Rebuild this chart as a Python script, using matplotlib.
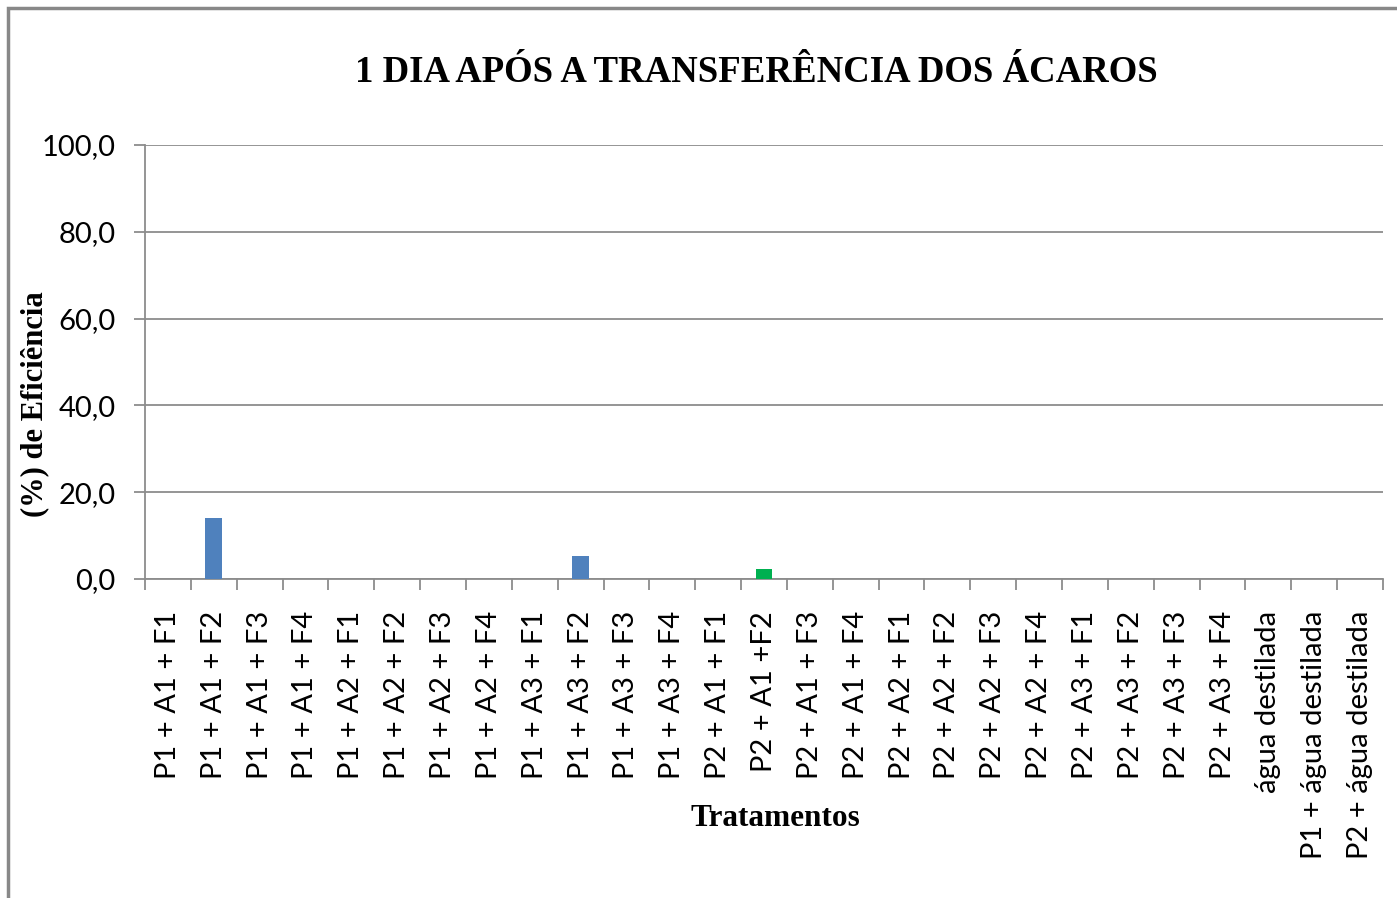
import matplotlib
matplotlib.use("Agg")
import matplotlib.pyplot as plt
from matplotlib.patches import Rectangle
import numpy as np

# Dados
tratamentos = [
    "P1 + A1 + F1", "P1 + A1 + F2", "P1 + A1 + F3", "P1 + A1 + F4",
    "P1 + A2 + F1", "P1 + A2 + F2", "P1 + A2 + F3", "P1 + A2 + F4",
    "P1 + A3 + F1", "P1 + A3 + F2", "P1 + A3 + F3", "P1 + A3 + F4",
    "P2 + A1 + F1", "P2 + A1 +F2", "P2 + A1 + F3", "P2 + A1 + F4",
    "P2 + A2 + F1", "P2 + A2 + F2", "P2 + A2 + F3", "P2 + A2 + F4",
    "P2 + A3 + F1", "P2 + A3 + F2", "P2 + A3 + F3", "P2 + A3 + F4",
    "água destilada", "P1 + água destilada", "P2 + água destilada",
]
eficiencia = [0, 14.0, 0, 0, 0, 0, 0, 0, 0, 5.4, 0, 0, 0, 2.4,
              0, 0, 0, 0, 0, 0, 0, 0, 0, 0, 0, 0, 0]
cores = ["#4F81BD"] * len(tratamentos)
cores[13] = "#00B050"
y_ticks = [0, 20, 40, 60, 80, 100]

fig = plt.figure(figsize=(13.97, 8.98), dpi=100)
W, H = 1397, 898

# Moldura cinza em volta do gráfico
fig.patches.append(Rectangle((8 / W, -0.02), 1.05, 1 - 8 / H + 0.02,
                             transform=fig.transFigure, fill=False,
                             edgecolor="#888888", linewidth=2.5))

ax = fig.add_axes([145 / W, 1 - 579 / H, (1383 - 145) / W, (579 - 145) / H])

x = np.arange(len(tratamentos))
ax.bar(x, eficiencia, width=0.37, color=cores, zorder=3)

ax.set_xlim(-0.5, len(tratamentos) - 0.5)
ax.set_ylim(0, 100)
ax.set_yticks(y_ticks)
ax.set_yticklabels([f"{v:.1f}".replace(".", ",") for v in y_ticks],
                   fontfamily="Lato", fontsize=21)
ax.yaxis.grid(True, color="#8c8c8c", linewidth=1.3, zorder=0)

ax.set_xticks(x)
ax.set_xticklabels(tratamentos, rotation=90, fontfamily="Lato", fontsize=21)
ax.set_xticks(np.arange(len(tratamentos) + 1) - 0.5, minor=True)
ax.tick_params(axis="x", which="major", length=0, pad=23)
ax.tick_params(axis="x", which="minor", length=8, color="#8c8c8c", width=1.3)
ax.tick_params(axis="y", length=8, color="#8c8c8c", width=1.3, pad=13)

for s in ["top", "right"]:
    ax.spines[s].set_visible(False)
for s in ["left", "bottom"]:
    ax.spines[s].set_color("#8c8c8c")
    ax.spines[s].set_linewidth(1.3)

fig.text(756 / W, 1 - 72 / H, "1 DIA APÓS A TRANSFERÊNCIA DOS ÁCAROS",
         ha="center", va="center", fontfamily="Liberation Serif",
         fontweight="bold", fontsize=26.5)
fig.text(35 / W, 1 - 404 / H, "(%) de Eficiência", rotation=90,
         ha="center", va="center", fontfamily="Liberation Serif",
         fontweight="bold", fontsize=22)
fig.text(775 / W, 1 - 818 / H, "Tratamentos", ha="center", va="center",
         fontfamily="Liberation Serif", fontweight="bold", fontsize=22.5)

fig.savefig("out.png", dpi=100)
